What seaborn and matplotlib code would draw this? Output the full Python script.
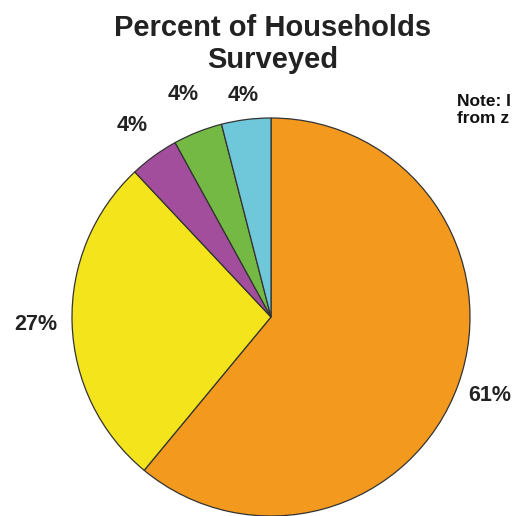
import matplotlib
matplotlib.use("Agg")
import numpy as np
import matplotlib.pyplot as plt
import seaborn as sns

sns.set_theme(style="white")
plt.rcParams["font.family"] = ["Liberation Sans", "DejaVu Sans"]

# Share of households surveyed, clockwise from 12 o'clock
categories = ["Group A", "Group B", "Group C", "Group D", "Group E"]
shares = [61, 27, 4, 4, 4]
colors = ["#F39A1E", "#F4E41C", "#A24E9C", "#74B944", "#6EC8D9"]

# radial placement of each percentage label (in pie radii)
label_radius = [1.17, 1.18, 1.19, 1.20, 1.12]

W, H = 519, 516
fig = plt.figure(figsize=(W / 100, H / 100), dpi=100)
fig.patch.set_facecolor("white")

# Pie area: centre (271, 317) px, radius 199 px
cx, cy, r = 271, 317, 199
ax = fig.add_axes([(cx - r) / W, (H - cy - r) / H, 2 * r / W, 2 * r / H])
wedges, _ = ax.pie(
    shares,
    colors=colors,
    startangle=90,
    counterclock=False,
    radius=1.0,
    wedgeprops=dict(edgecolor="#333333", linewidth=0.9),
)
total = sum(shares)
for w, val, lr in zip(wedges, shares, label_radius):
    ang = np.deg2rad((w.theta1 + w.theta2) / 2)
    ax.text(lr * np.cos(ang), lr * np.sin(ang), f"{100 * val / total:.0f}%",
            ha="center", va="center", fontsize=15.5, fontweight="bold",
            color="#222222", clip_on=False)
ax.set_xlim(-1.0, 1.0)
ax.set_ylim(-1.0, 1.0)
ax.set_aspect("auto")
ax.axis("off")

fig.text(273 / W, 1 - 44 / H, "Percent of Households\nSurveyed",
         ha="center", va="center", fontsize=21, fontweight="bold",
         color="#222222", linespacing=1.22)

fig.text(457 / W, 1 - 110 / H, "Note: I\nfrom z",
         ha="left", va="center", fontsize=12.5, fontweight="bold",
         color="#111111", linespacing=1.1)

fig.savefig("out.png", dpi=100, facecolor="white")
